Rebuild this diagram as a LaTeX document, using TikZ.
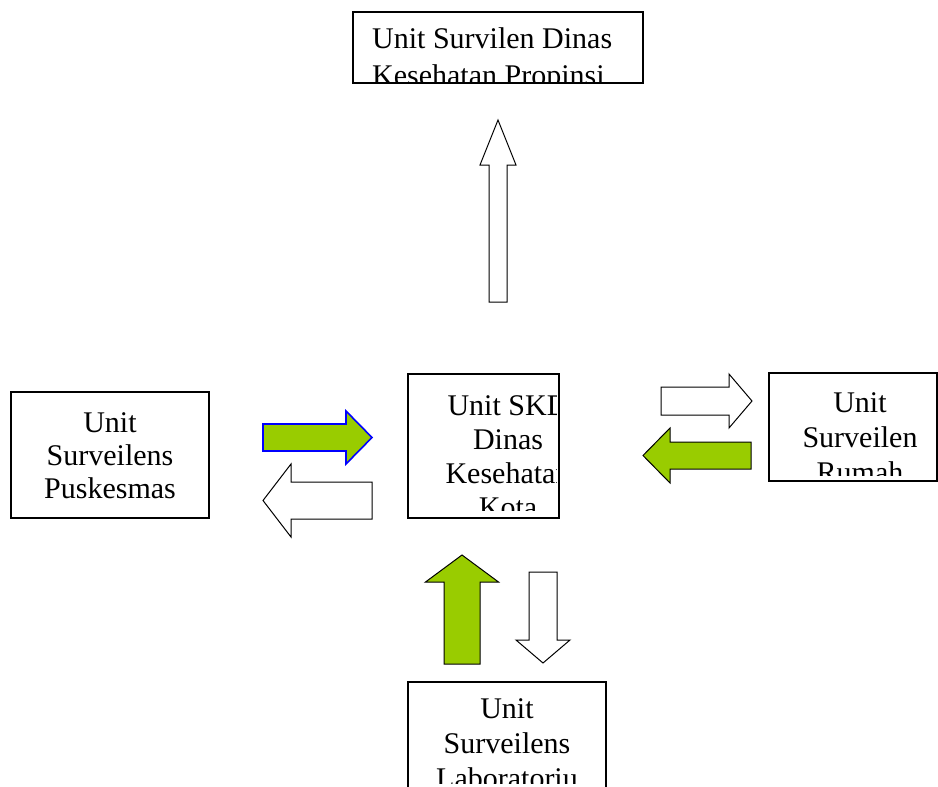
\documentclass[tikz,border=0pt]{standalone}
\usepackage{fontspec}
\setmainfont{Liberation Serif}
\definecolor{arrowgreen}{HTML}{99CC00}
% style, tail, rotation, length, shaft half width, head half width, head length
\newcommand{\blockarrow}[7]
{   \filldraw[#1, shift={#2}, rotate=#3] (0,-#5) -- ({#4-#7},-#5) -- ({#4-#7},-#6) -- (#4,0) -- ({#4-#7},#6) -- ({#4-#7},#5) -- (0,#5) -- cycle;
}
\tikzset{
  unitbox/.style={draw, line width=1.6pt, fill=white, inner sep=0pt},
  unittext/.style={font=\fontsize{30}{34}\selectfont, inner sep=0pt, anchor=base},
  plainarrow/.style={draw=black, fill=white, line width=1pt},
  greenarrow/.style={draw=black, fill=arrowgreen, line width=1pt},
  bluegreenarrow/.style={draw=blue, fill=arrowgreen, line width=1.6pt}
}
\begin{document}
\begin{tikzpicture}[x=1pt, y=-1pt]
          \useasboundingbox (0,0) rectangle (938,787);
          \node[unitbox, minimum width=290pt, minimum height=71pt] (prov) at (498,47.5) {};
          \node[unitbox, minimum width=151pt, minimum height=144pt] (skd) at (483.5,446) {};
          \node[unitbox, minimum width=198pt, minimum height=126pt] (pusk) at (110,455) {};
          \node[unitbox, minimum width=168pt, minimum height=108pt] (rs) at (853,427) {};
          \node[unitbox, minimum width=198pt, minimum height=108pt] (lab) at (507,736) {};
          \begin{scope}
            \clip (353,12) rectangle (643,82);
            \node[unittext, anchor=base west] (prov-1) at (372,48) {Unit Survilen Dinas};
            \node[unittext, anchor=base west] (prov-2) at (372,85) {Kesehatan Propinsi};
          \end{scope}
          \begin{scope}
            \clip (408,374) rectangle (556,510);
            \foreach \txt [count=\i] in {Unit SKD,Dinas,Kesehatan,Kota}
              \node[unittext] (skd-\i) at (508,{415+34*(\i-1)}) {\txt};
          \end{scope}
          \foreach \txt [count=\i] in {Unit,Surveilens,Puskesmas}
            \node[unittext] (pusk-\i) at (110,{432+33*(\i-1)}) {\txt};
          \begin{scope}
            \clip (769,373) rectangle (937,475);
            \foreach \txt [count=\i] in {Unit,Surveilen,Rumah}
              \node[unittext] (rs-\i) at (860,{412+35*(\i-1)}) {\txt};
          \end{scope}
          \begin{scope}
            \clip (408,682) rectangle (606,783);
            \foreach \txt [count=\i] in {Unit,Surveilens,Laboratoriu}
              \node[unittext] (lab-\i) at (507,{718+35*(\i-1)}) {\txt};
          \end{scope}
          \blockarrow{plainarrow}{(498,302)}{90}{182}{9}{18}{45}
          \blockarrow{bluegreenarrow}{(263,437.5)}{0}{109}{13.5}{26.5}{26}
          \blockarrow{plainarrow}{(372,500.5)}{180}{109}{18.5}{36.5}{28}
          \blockarrow{plainarrow}{(661,401)}{0}{91}{14}{27}{23}
          \blockarrow{greenarrow}{(751,455.5)}{180}{108}{13.5}{27.5}{27}
          \blockarrow{greenarrow}{(462,664)}{90}{109}{18}{36.5}{27}
          \blockarrow{plainarrow}{(543,572)}{270}{91}{14}{27}{23}
        \end{tikzpicture}
\end{document}
